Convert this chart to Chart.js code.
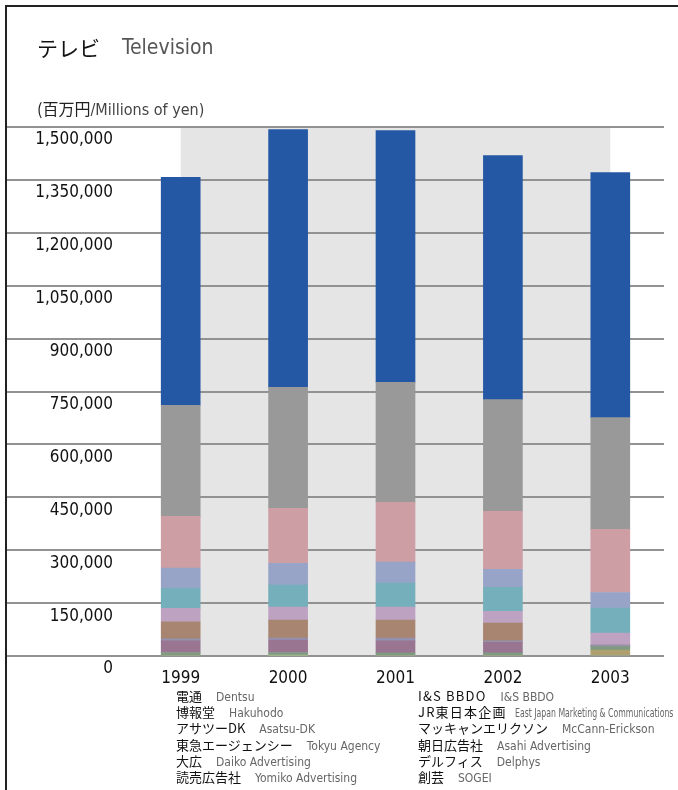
<!DOCTYPE html>
<html>
<head>
<meta charset="utf-8">
<script src="https://cdn.jsdelivr.net/npm/chart.js@4.4.1/dist/chart.umd.min.js"></script>
<style>
  html, body { margin: 0; padding: 0; background: #fff; }
  #wrap { position: relative; width: 678px; height: 790px; overflow: hidden; }
  #frame { position: absolute; left: 5px; top: 5px; width: 700px; height: 800px;
           border-top: 2px solid #222; border-left: 2px solid #222; }
  canvas { position: absolute; left: 0; top: 0; }
  .jp { font-family: "Noto Sans CJK JP", sans-serif; color: #111; }
  .en { font-family: "DejaVu Sans Condensed", sans-serif; color: #666; }
  #title { position: absolute; left: 37px; top: 31px; height: 32px; line-height: 32px; white-space: nowrap; }
  #title .jp { font-size: 21px; }
  #title .en { position: absolute; left: 85px; top: 0; font-size: 21px; color: #555; }
  #unit { position: absolute; left: 37px; top: 97px; line-height: 22px; white-space: nowrap; }
  #unit .jp { font-size: 16px; color: #222; }
  #unit .en { color: #444; font-size: 16px; }
  .col { position: absolute; top: 688px; }
  .row { height: 16.2px; line-height: 16.2px; white-space: nowrap; }
  .row .jp { font-size: 13px; }
  .row .en { font-size: 12px; margin-left: 14px; display: inline-block; transform-origin: left center; }
  .row .sp { letter-spacing: 1.2px; }
</style>
</head>
<body>
<div id="wrap">
  <canvas id="chart" width="678" height="790"></canvas>
  <div id="frame"></div>
  <div id="title"><span class="jp">テレビ</span><span class="en">Television</span></div>
  <div id="unit"><span class="jp">(百万円</span><span class="en">/Millions of yen)</span></div>
  <div class="col" style="left:176px" id="legL"></div>
  <div class="col" style="left:418px" id="legR"></div>
</div>
<script>
// values in millions of yen
const years = ['1999', '2000', '2001', '2002', '2003'];
const dentsu   = [646000, 731000, 714000, 692000, 695000];
const hakuhodo = [315000, 343000, 340000, 317000, 317000];
const asatsu   = [147000, 156000, 170000, 164000, 179000];
const tokyu    = [57000, 62000, 59000, 51000, 44000];
const daiko    = [57000, 62000, 68000, 68000, 71000];
const yomiko   = [38000, 37000, 37000, 34000, 34000];
const isBbdo   = [48000, 51000, 51000, 50000, 0];
const jrEast   = [6000, 6000, 8000, 4000, 4000];
const mccann   = [33000, 35000, 34000, 30000, 0];
const asahi    = [10000, 8000, 9000, 9000, 10000];
const delphys  = [0, 0, 0, 0, 17000];
const sogei    = [0, 2000, 0, 0, 0];

const yTicks = [0, 150000, 300000, 450000, 600000, 750000, 900000, 1050000, 1200000, 1350000, 1500000];

// legend order (top of stack first)
const companies = [
  ['電通', 'Dentsu', dentsu, '#2457a4'],
  ['博報堂', 'Hakuhodo', hakuhodo, '#999999'],
  ['アサツーDK', 'Asatsu-DK', asatsu, '#ce9ea5'],
  ['東急エージェンシー', 'Tokyu Agency', tokyu, '#97a4c8'],
  ['大広', 'Daiko Advertising', daiko, '#74afbb'],
  ['読売広告社', 'Yomiko Advertising', yomiko, '#bea2c2'],
  ['I&S BBDO', 'I&S BBDO', isBbdo, '#a88570'],
  ['JR東日本企画', 'East Japan Marketing & Communications', jrEast, '#9491ae'],
  ['マッキャンエリクソン', 'McCann-Erickson', mccann, '#997592'],
  ['朝日広告社', 'Asahi Advertising', asahi, '#7f9a80'],
  ['デルフィス', 'Delphys', delphys, '#afa070'],
  ['創芸', 'SOGEI', sogei, '#a8c89a']
];

const narrow = '"DejaVu Sans Condensed", sans-serif';

// text legend below the chart
companies.forEach((c, i) => {
  const row = document.createElement('div');
  row.className = 'row';
  const jp = document.createElement('span');
  jp.className = 'jp' + (i === 6 || i === 7 ? ' sp' : '');
  jp.textContent = c[0];
  const en = document.createElement('span');
  en.className = 'en';
  en.textContent = c[1];
  if (i === 7) { en.style.marginLeft = '8px'; en.style.transform = 'scaleX(0.72)'; }
  row.appendChild(jp);
  row.appendChild(en);
  document.getElementById(i < 6 ? 'legL' : 'legR').appendChild(row);
});

// grey band between the first and last category centres
const band = {
  id: 'band',
  beforeDraw(chart) {
    const x = chart.scales.x, y = chart.scales.y, ctx = chart.ctx;
    const x1 = x.getPixelForValue(0), x2 = x.getPixelForValue(years.length - 1);
    const y1 = y.getPixelForValue(1500000), y2 = y.getPixelForValue(0);
    ctx.save();
    ctx.fillStyle = '#e5e5e5';
    ctx.fillRect(x1, y1, x2 - x1, y2 - y1);
    ctx.restore();
  }
};

const datasets = companies.slice().reverse().map(c => ({
  label: c[1],
  data: c[2],
  backgroundColor: c[3],
  borderWidth: 0,
  barThickness: 39,
  stack: 's'
}));

new Chart(document.getElementById('chart'), {
  type: 'bar',
  data: { labels: years, datasets: datasets },
  options: {
    responsive: false,
    animation: false,
    devicePixelRatio: 1,
    layout: { padding: { left: 6, right: 14, top: 127, bottom: 100 } },
    plugins: { legend: { display: false }, tooltip: { enabled: false } },
    scales: {
      x: {
        stacked: true,
        grid: { display: false },
        border: { display: false },
        ticks: { color: '#111', padding: 4, font: { family: narrow, size: 17 } },
        afterFit: s => { s.height = 34; }
      },
      y: {
        stacked: true,
        min: 0,
        max: 1500000,
        afterBuildTicks: s => { s.ticks = yTicks.map(v => ({ value: v })); },
        grid: { color: '#929292', lineWidth: 2, drawTicks: true, tickLength: 121 },
        border: { display: false },
        ticks: {
          color: '#111',
          padding: -107,
          labelOffset: 13,
          font: { family: narrow, size: 17 },
          callback: v => v.toLocaleString('en-US')
        },
        afterFit: s => { s.width = 121; }
      }
    }
  },
  plugins: [band]
});
</script>
</body>
</html>
